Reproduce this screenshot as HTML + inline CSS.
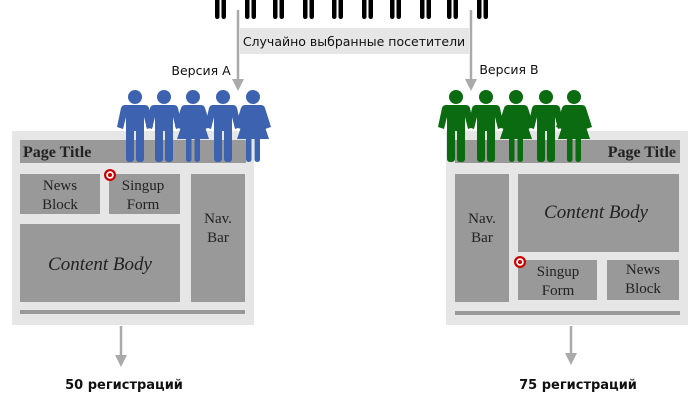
<!DOCTYPE html>
<html><head><meta charset="utf-8"><style>
body{margin:0;width:700px;height:400px;background:#fff;overflow:hidden}
svg{display:block}
.s{font-family:"Liberation Serif",serif;fill:#222}
.t{font-family:"DejaVu Sans","Liberation Sans",sans-serif;fill:#111}
</style></head><body>
<svg width="700" height="400" viewBox="0 0 700 400" xmlns="http://www.w3.org/2000/svg">
<defs>
<symbol id="m" overflow="visible">
<circle cx="0" cy="0" r="7"/>
<path d="M-10,8 H10 Q13,8 14,11 L18,30 L12,32 L9,20 L9,34 H-9 L-9,20 L-12,32 L-18,30 L-14,11 Q-13,8 -10,8Z"/>
<rect x="-9" y="31" width="8" height="34" rx="3"/>
<rect x="1" y="31" width="8" height="34" rx="3"/>
</symbol>
<symbol id="w" overflow="visible">
<circle cx="0" cy="0" r="7"/>
<path d="M-8,8 H8 Q11,8 12,11 L18,30 L12,32 L9,21 L16,42 H-16 L-9,21 L-12,32 L-18,30 L-12,11 Q-11,8 -8,8Z"/>
<rect x="-7" y="40" width="5.5" height="25" rx="2.5"/>
<rect x="1.5" y="40" width="5.5" height="25" rx="2.5"/>
</symbol>
<symbol id="leg" overflow="visible">
<rect x="0" y="-5" width="4.5" height="24" rx="2.2"/>
<rect x="6.5" y="-5" width="4.5" height="24" rx="2.2"/>
</symbol>
</defs>
<g fill="#000">
<use href="#leg" x="215" y="0"/><use href="#leg" x="245" y="0"/><use href="#leg" x="273" y="0"/><use href="#leg" x="303" y="0"/><use href="#leg" x="332" y="0"/><use href="#leg" x="362" y="0"/><use href="#leg" x="390" y="0"/><use href="#leg" x="420" y="0"/><use href="#leg" x="447" y="0"/><use href="#leg" x="477" y="0"/>
</g>
<rect x="240" y="28" width="229" height="26" fill="#e6e6e6"/>
<text class="t" x="354" y="46" font-size="12.5" text-anchor="middle">Случайно выбранные посетители</text>
<g stroke="#aaa" stroke-width="2.5"><line x1="238" y1="10" x2="238" y2="80"/><line x1="471" y1="10" x2="471" y2="80"/>
<line x1="121" y1="326" x2="121" y2="356"/><line x1="571" y1="326" x2="571" y2="354"/></g>
<g fill="#aaa"><path d="M232,79 L244,79 L238,91Z"/><path d="M465,79 L477,79 L471,91Z"/>
<path d="M115,355 L127,355 L121,367Z"/><path d="M565,353 L577,353 L571,365Z"/></g>
<text class="t" x="201" y="75" font-size="12.5" text-anchor="middle">Версия А</text>
<text class="t" x="509" y="74" font-size="12.5" text-anchor="middle">Версия В</text>
<rect x="12" y="131" width="242" height="194" fill="#e6e6e6"/>
<rect x="20" y="140" width="226" height="23" fill="#999"/>
<text class="s" x="23" y="157" font-size="16" font-weight="bold">Page Title</text>
<rect x="20" y="174" width="80" height="40" fill="#999"/>
<rect x="109" y="174" width="71" height="40" fill="#999"/>
<rect x="191" y="174" width="54" height="128" fill="#999"/>
<rect x="20" y="224" width="160" height="78" fill="#999"/>
<rect x="20" y="310" width="225" height="4" fill="#999"/>
<g class="s" font-size="15" text-anchor="middle">
<text x="60" y="190">News</text><text x="60" y="209">Block</text>
<text x="143" y="190">Singup</text><text x="143" y="209">Form</text>
<text x="218" y="223">Nav.</text><text x="218" y="242">Bar</text>
<text x="100" y="270" font-style="italic" font-size="19">Content Body</text>
</g>
<circle cx="110" cy="175" r="6" fill="#c00"/><circle cx="110" cy="175" r="3.8" fill="#fff"/><circle cx="110" cy="175" r="2" fill="#c00"/>
<g fill="#3d63b0"><use href="#m" x="135" y="97"/><use href="#m" x="164" y="97"/><use href="#w" x="193" y="97"/><use href="#m" x="223" y="97"/><use href="#w" x="253" y="97"/></g>
<rect x="446" y="131" width="242" height="194" fill="#e6e6e6"/>
<rect x="455" y="140" width="225" height="23" fill="#999"/>
<text class="s" x="676" y="157" font-size="16" font-weight="bold" text-anchor="end">Page Title</text>
<rect x="455" y="174" width="54" height="128" fill="#999"/>
<rect x="518" y="174" width="161" height="78" fill="#999"/>
<rect x="518" y="260" width="79" height="40" fill="#999"/>
<rect x="607" y="260" width="72" height="40" fill="#999"/>
<rect x="455" y="311" width="225" height="4" fill="#999"/>
<g class="s" font-size="15" text-anchor="middle">
<text x="482" y="223">Nav.</text><text x="482" y="242">Bar</text>
<text x="596" y="218" font-style="italic" font-size="19">Content Body</text>
<text x="558" y="276">Singup</text><text x="558" y="295">Form</text>
<text x="643" y="274">News</text><text x="643" y="293">Block</text>
</g>
<circle cx="520" cy="262" r="6" fill="#c00"/><circle cx="520" cy="262" r="3.8" fill="#fff"/><circle cx="520" cy="262" r="2" fill="#c00"/>
<g fill="#0b6b10"><use href="#m" x="456" y="97"/><use href="#m" x="486" y="97"/><use href="#w" x="516" y="97"/><use href="#m" x="546" y="97"/><use href="#w" x="574" y="97"/></g>
<text class="t" x="124" y="389" font-size="13" font-weight="bold" text-anchor="middle">50 регистраций</text>
<text class="t" x="578" y="389" font-size="13" font-weight="bold" text-anchor="middle">75 регистраций</text>
</svg>
</body></html>
